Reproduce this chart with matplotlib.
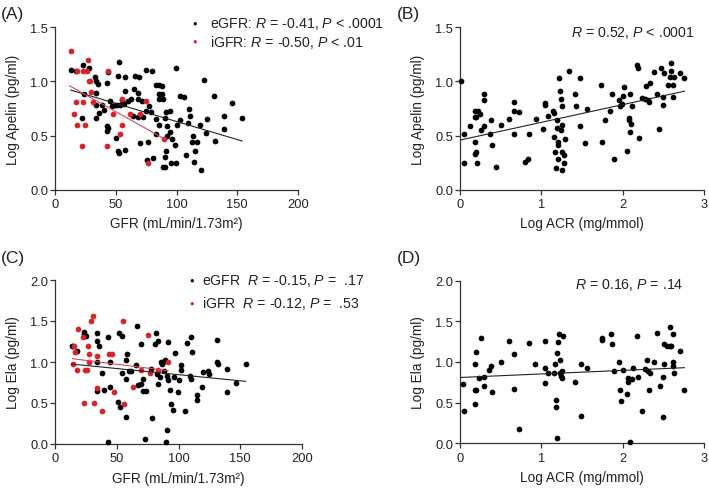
import matplotlib
matplotlib.use("Agg")
import matplotlib.pyplot as plt
import numpy as np

plt.rcParams['font.family'] = ['Liberation Sans', 'DejaVu Sans']
plt.rcParams['mathtext.fontset'] = 'custom'
plt.rcParams['mathtext.rm'] = 'Liberation Sans'
plt.rcParams['mathtext.it'] = 'Liberation Sans:italic'

# ---------------- Panel A: GFR vs Log Apelin ----------------
a_egfr_x = [13.2, 17, 22.7, 28, 22, 33, 34, 35, 33.4, 34, 33.7, 36, 39, 42.5, 44, 52.6, 52, 57.5,
            45, 46.9, 43, 43.7, 42.5, 49, 51, 50, 52, 53, 57.5, 53.4, 55, 57, 57.5, 60.3, 62.5,
            65, 65.8, 69, 68.5, 68, 68, 70, 71.5, 72.6, 74.5, 75, 76.7, 76, 77.5, 80, 81,
            83.5, 85.8, 88, 85.8, 87.7, 86, 88.5, 83.5, 85.5, 83, 90.4, 91, 92, 91.8, 94.5, 95,
            95.6, 99.5, 99, 99.5, 91, 90.4, 89, 90.7, 100, 103, 102.5, 105.8, 108, 109.6, 110.4,
            111, 113, 113.5, 115, 114, 119, 120, 116.5, 123, 124.7, 124, 131, 131.8, 139, 139,
            145.8, 154, 24, 40, 64, 79, 96]
a_egfr_y = [1.11, 1.10, 1.15, 1.12, 0.66, 1.04, 1.00, 0.98, 0.89, 0.78, 0.66, 0.71, 0.78, 0.99,
            1.09, 1.18, 1.05, 1.04, 0.82, 0.77, 0.59, 0.57, 0.54, 0.78, 0.78, 0.48, 0.36, 0.34,
            0.37, 0.78, 0.83, 0.79, 0.91, 0.82, 0.84, 0.93, 1.05, 1.04, 0.89, 0.84, 0.67, 0.43,
            0.82, 0.67, 1.11, 0.73, 0.44, 0.27, 0.77, 1.10, 0.29, 0.97, 0.97, 0.96, 0.88, 0.88,
            0.84, 0.84, 0.65, 0.60, 0.51, 0.66, 0.72, 0.59, 0.50, 0.73, 0.53, 0.25, 1.12, 0.41,
            0.25, 0.36, 0.30, 0.21, 0.21, 0.60, 0.64, 0.87, 0.86, 0.32, 0.62, 0.75, 0.68, 0.44,
            0.50, 0.36, 0.26, 0.60, 0.18, 0.44, 1.01, 0.65, 0.52, 0.87, 0.45, 0.68, 0.56, 0.80,
            0.66, 0.88, 0.74, 0.68, 0.72, 0.47]
a_igfr_x = [13.2, 15.6, 18.4, 17.5, 17.8, 22, 22.7, 23, 24.7, 27.4, 26.6, 28, 28.8, 29.3, 31.5,
            43.8, 43, 47.4, 55, 55, 53.4, 61.6, 70, 74.5, 76.7, 90]
a_igfr_y = [1.28, 0.70, 1.10, 0.81, 0.60, 0.40, 0.81, 1.10, 0.60, 1.20, 1.10, 1.00, 1.00, 0.90,
            0.81, 1.10, 0.40, 0.70, 0.84, 0.60, 0.51, 0.70, 0.70, 0.82, 0.25, 0.47]
a_fit_e_x = [13, 154]
a_fit_e_y = [0.92, 0.45]
a_fit_i_x = [12, 90]
a_fit_i_y = [0.96, 0.47]

# ---------------- Panel B: Log ACR vs Log Apelin ----------------
b_x = [0.01, 0.05, 0.05, 0.12, 0.18, 0.18, 0.2, 0.18, 0.18, 0.2, 0.21, 0.22, 0.24, 0.26, 0.29,
       0.29, 0.29, 0.37, 0.38, 0.39, 0.44, 0.51, 0.6, 0.66, 0.67, 0.66, 0.73, 0.8, 0.83, 0.85,
       0.93, 1.02, 1.05, 1.05, 1.08, 1.14, 1.15, 1.15, 1.17, 1.18, 1.19, 1.19, 1.2, 1.21, 1.21,
       1.22, 1.23, 1.24, 1.24, 1.25, 1.25, 1.26, 1.26, 1.28, 1.28, 1.29, 1.34, 1.42, 1.43, 1.48,
       1.48, 1.54, 1.56, 1.73, 1.74, 1.78, 1.84, 1.87, 1.89, 1.96, 1.97, 1.99, 2.0, 2.02, 2.05,
       2.08, 2.09, 2.08, 2.09, 2.1, 2.11, 2.18, 2.19, 2.2, 2.24, 2.28, 2.29, 2.31, 2.32, 2.33,
       2.39, 2.42, 2.45, 2.47, 2.49, 2.50, 2.51, 2.56, 2.58, 2.6, 2.62, 2.62, 2.6, 2.63, 2.7, 2.76]
b_y = [1.00, 0.51, 0.25, 0.59, 0.73, 0.67, 0.67, 0.44, 0.33, 0.35, 0.25, 0.73, 0.70, 0.55, 0.88,
       0.83, 0.59, 0.51, 0.64, 0.41, 0.21, 0.60, 0.65, 0.81, 0.73, 0.51, 0.72, 0.26, 0.28, 0.51,
       0.65, 0.56, 0.80, 0.78, 0.68, 0.73, 0.71, 0.49, 0.35, 0.20, 0.64, 0.57, 0.44, 0.41, 0.28,
       1.03, 0.91, 0.84, 0.55, 0.35, 0.60, 0.77, 0.18, 0.32, 0.25, 0.47, 1.10, 0.88, 0.77, 1.03,
       0.59, 0.43, 0.75, 0.97, 0.44, 0.64, 0.73, 0.88, 0.28, 0.83, 0.77, 0.79, 0.87, 0.95, 0.36,
       0.66, 0.88, 0.64, 0.53, 0.61, 0.77, 1.15, 1.12, 0.48, 0.85, 0.84, 0.96, 0.83, 0.81, 0.99,
       1.09, 0.88, 0.56, 1.12, 0.78, 0.86, 1.08, 0.97, 1.04, 1.17, 0.97, 0.86, 1.10, 1.04, 1.08, 1.03]
b_fit_x = [0.01, 2.76]
b_fit_y = [0.46, 0.91]

# ---------------- Panel C: GFR vs Log Ela ----------------
c_egfr_x = [13.5, 14.8, 18, 23.7, 23.7, 24.8, 33.7, 33.7, 35.8, 33.7, 34.2, 37.7, 39.6, 42.6,
            44.5, 44.5, 42.6, 51, 52.5, 52, 54.4, 54, 57.4, 57.4, 58.5, 57.4, 59.8, 61.4, 66.6,
            65.5, 67.4, 70, 70, 70.9, 70.9, 72.8, 74, 78, 78.7, 81.7, 80.9, 83.5, 82.7, 83.5,
            84.9, 86.2, 87, 87.6, 88, 88.9, 90.3, 91.6, 91.6, 93, 94.3, 95.7, 96.2, 97, 90.8,
            89.5, 99.7, 100.5, 102.4, 102.4, 105.6, 106.5, 109.7, 110.5, 110.5, 111.3, 115, 115,
            119.4, 120, 124, 124.5, 131.2, 131.2, 132, 139.3, 139.3, 146.3, 154.4]
c_egfr_y = [1.20, 1.20, 1.14, 1.37, 1.34, 1.32, 1.35, 1.26, 1.20, 1.00, 0.65, 0.86, 0.66, 1.31,
            1.00, 0.70, 0.02, 0.51, 0.45, 1.35, 1.32, 0.87, 0.79, 0.33, 1.10, 1.02, 0.89, 0.89,
            1.44, 0.96, 0.72, 1.22, 0.73, 0.79, 0.65, 0.06, 0.65, 0.91, 0.32, 1.35, 1.22, 1.26,
            0.85, 0.73, 0.82, 1.00, 0.97, 1.00, 0.89, 1.02, 0.83, 0.78, 1.24, 0.66, 0.49, 0.41,
            0.82, 1.11, 0.17, 0.03, 0.63, 0.78, 0.96, 0.90, 0.40, 1.23, 0.83, 0.79, 1.31, 1.12,
            0.60, 0.54, 0.70, 0.88, 0.89, 0.85, 1.27, 1.00, 0.98, 0.92, 0.64, 0.74, 0.98]
c_igfr_x = [14.3, 15.4, 16.2, 18, 18.9, 22.9, 23.5, 24.3, 25.6, 27, 27.8, 27.8, 28.8, 30.5,
            31.8, 33.7, 34.2, 37.7, 44, 45.8, 47.7, 55.2, 55.8, 62.8, 70, 75.5, 77.3, 83.5, 91.6]
c_igfr_y = [0.97, 1.20, 1.12, 0.90, 1.40, 1.30, 0.50, 0.90, 0.90, 1.20, 1.10, 1.00, 1.50, 1.56,
            0.50, 1.07, 0.68, 0.40, 1.10, 1.10, 0.63, 1.50, 0.49, 0.69, 0.90, 1.33, 0.86, 0.90, 1.00]
c_fit_e_x = [13.5, 154.4]
c_fit_e_y = [0.975, 0.764]
c_fit_i_x = [14.3, 91.6]
c_fit_i_y = [1.04, 0.894]

# ---------------- Panel D: Log ACR vs Log Ela ----------------
d_x = [0.04, 0.05, 0.18, 0.18, 0.18, 0.2, 0.2, 0.23, 0.26, 0.29, 0.29, 0.36, 0.38, 0.39, 0.51,
       0.6, 0.66, 0.66, 0.73, 0.85, 0.92, 1.04, 1.04, 1.05, 1.08, 1.16, 1.17, 1.18, 1.18, 1.19,
       1.19, 1.21, 1.22, 1.23, 1.23, 1.24, 1.25, 1.25, 1.27, 1.42, 1.49, 1.49, 1.56, 1.74, 1.74,
       1.86, 1.87, 1.89, 1.95, 1.97, 1.98, 2.01, 2.05, 2.07, 2.07, 2.09, 2.11, 2.13, 2.18, 2.19,
       2.24, 2.27, 2.30, 2.31, 2.32, 2.34, 2.39, 2.42, 2.46, 2.49, 2.49, 2.51, 2.51, 2.54, 2.58,
       2.58, 2.6, 2.62, 2.62, 2.62, 2.63, 2.7, 2.76]
d_y = [0.73, 0.40, 0.98, 0.65, 0.48, 1.12, 0.65, 0.80, 1.30, 0.82, 0.71, 0.90, 0.95, 0.63, 1.00,
       1.26, 1.10, 0.67, 0.18, 1.23, 0.98, 1.26, 0.93, 0.74, 0.86, 0.86, 0.97, 0.53, 0.45, 0.07,
       1.11, 1.24, 1.35, 1.02, 0.86, 0.83, 0.89, 0.80, 1.32, 0.76, 0.98, 0.34, 0.93, 1.30, 1.27,
       1.34, 1.22, 0.89, 1.00, 0.66, 0.52, 0.90, 0.61, 0.80, 0.76, 0.02, 0.79, 0.93, 1.32, 0.81,
       0.40, 0.91, 1.02, 0.89, 0.65, 0.87, 1.00, 1.36, 0.71, 0.82, 0.32, 0.98, 1.22, 1.20, 1.43,
       1.20, 1.20, 1.34, 1.00, 0.95, 0.87, 1.13, 0.65]
d_fit_x = [0.01, 2.76]
d_fit_y = [0.81, 0.93]

# ---------------- Texts ----------------
panel_labels = ['(A)', '(B)', '(C)', '(D)']
a_leg = [r'eGFR: $\it{R}$ = -0.41, $\it{P}$ < .0001', r'iGFR: $\it{R}$ = -0.50, $\it{P}$ < .01']
b_txt = r'$\it{R}$ = 0.52, $\it{P}$ < .0001'
c_leg = [r'eGFR  $\it{R}$ = -0.15, $\it{P}$ =  .17', r'iGFR  $\it{R}$ = -0.12, $\it{P}$ =  .53']
d_txt = r'$\it{R}$ = 0.16, $\it{P}$ = .14'
gfr_label = 'GFR (mL/min/1.73m\u00b2)'
acr_label = 'Log ACR (mg/mmol)'
apelin_label = 'Log Apelin (pg/ml)'
ela_label = 'Log Ela (pg/ml)'

BLACK = '#000000'
RED = '#d9232a'
LINE_RED = '#d8485a'
LINE_BLK = '#222222'
FS_TICK = 9.3
FS_LAB = 9.8
FS_TXT = 10.2
MS = 17

W, H = 709, 489
fig = plt.figure(figsize=(W / 100, H / 100), dpi=100)


def px_axes(l, r, t, b):
    return fig.add_axes([l / W, 1 - b / H, (r - l) / W, (b - t) / H])


def style(ax, xlim, ylim, xticks, yticks, xlabel, ylabel):
    ax.set_xlim(*xlim)
    ax.set_ylim(*ylim)
    ax.set_xticks(xticks)
    ax.set_yticks(yticks)
    for s in ['top', 'right']:
        ax.spines[s].set_visible(False)
    for s in ['left', 'bottom']:
        ax.spines[s].set_linewidth(0.9)
        ax.spines[s].set_color('#333333')
    ax.tick_params(direction='out', length=3.5, width=0.9, labelsize=FS_TICK, colors='#333333')
    ax.tick_params(axis='x', pad=2.5)
    ax.tick_params(axis='y', pad=1.5)
    ax.tick_params(labelcolor='#222222')
    ax.set_xlabel(xlabel, fontsize=FS_LAB, labelpad=4.5, color='#222222')
    ax.set_ylabel(ylabel, fontsize=FS_LAB, labelpad=7, color='#222222')
    ax.yaxis.set_major_formatter(matplotlib.ticker.FormatStrFormatter('%.1f'))


# Panel A
axA = px_axes(55, 298, 28.3, 190.7)
axA.scatter(a_egfr_x, a_egfr_y, s=MS, c=BLACK, lw=0, zorder=3, clip_on=False)
axA.scatter(a_igfr_x, a_igfr_y, s=MS, c=RED, lw=0, zorder=3, clip_on=False)
axA.plot(a_fit_e_x, a_fit_e_y, color=LINE_BLK, lw=0.8, zorder=4)
axA.plot(a_fit_i_x, a_fit_i_y, color=LINE_RED, lw=0.8, zorder=4)
style(axA, (0, 200), (0, 1.5), [0, 50, 100, 150, 200], [0.0, 0.5, 1.0, 1.5], gfr_label, apelin_label)

# Panel B
axB = px_axes(460, 704, 28.3, 190.7)
axB.scatter(b_x, b_y, s=MS, c=BLACK, lw=0, zorder=3, clip_on=False)
axB.plot(b_fit_x, b_fit_y, color=LINE_BLK, lw=0.8, zorder=4)
style(axB, (0, 3), (0, 1.5), [0, 1, 2, 3], [0.0, 0.5, 1.0, 1.5], acr_label, apelin_label)

# Panel C
axC = px_axes(55, 302, 281, 445)
axC.scatter(c_egfr_x, c_egfr_y, s=MS, c=BLACK, lw=0, zorder=3, clip_on=False)
axC.scatter(c_igfr_x, c_igfr_y, s=MS, c=RED, lw=0, zorder=3, clip_on=False)
axC.plot(c_fit_e_x, c_fit_e_y, color=LINE_BLK, lw=0.8, zorder=4)
axC.plot(c_fit_i_x, c_fit_i_y, color=LINE_RED, lw=0.8, zorder=4)
style(axC, (0, 200), (0, 2.0), [0, 50, 100, 150, 200], [0.0, 0.5, 1.0, 1.5, 2.0], gfr_label, ela_label)

# Panel D
axD = px_axes(460, 704, 281.7, 444.3)
axD.scatter(d_x, d_y, s=MS, c=BLACK, lw=0, zorder=3, clip_on=False)
axD.plot(d_fit_x, d_fit_y, color=LINE_BLK, lw=0.8, zorder=4)
style(axD, (0, 3), (0, 2.0), [0, 1, 2, 3], [0.0, 0.5, 1.0, 1.5, 2.0], acr_label, ela_label)

# Panel labels
for lab, (x, y) in zip(panel_labels, [(1, 14), (397, 14), (1, 259), (397, 259)]):
    fig.text(x / W, 1 - y / H, lab, fontsize=12.5, va='center', ha='left', color='#222222')


def legend_rows(rows, colors, x_dot, x_txt, ys):
    for txt, col, y in zip(rows, colors, ys):
        fig.text(x_dot / W, 1 - y / H, '\u25CF', fontsize=5.5, color=col, ha='center', va='center')
        fig.text(x_txt / W, 1 - y / H, txt, fontsize=FS_TXT, ha='left', va='center', color='#222222')


legend_rows(a_leg, [BLACK, RED], 195, 210, [24, 42.5])
legend_rows(c_leg, [BLACK, RED], 192, 202, [281, 304])

fig.text(695 / W, 1 - 33 / H, b_txt, fontsize=FS_TXT, ha='right', va='center', color='#222222')
fig.text(683 / W, 1 - 285 / H, d_txt, fontsize=FS_TXT, ha='right', va='center', color='#222222')

fig.savefig('out.png', dpi=100)
